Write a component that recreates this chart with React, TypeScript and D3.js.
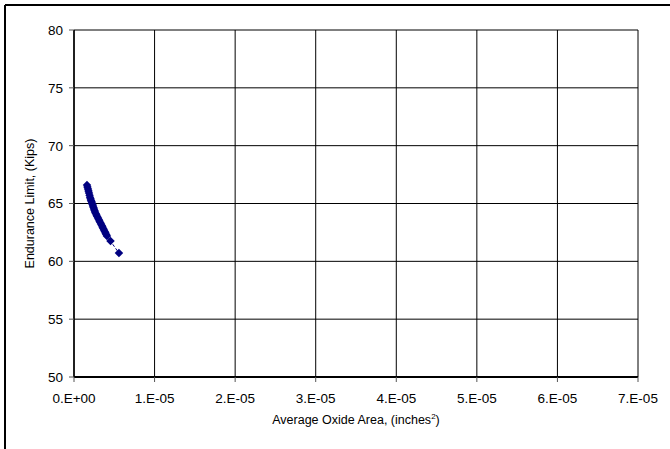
import React from "react";
import * as d3 from "d3";

// Average oxide area (in^2) vs endurance limit (kips)
const oxideArea = [
  1.61e-6, 1.67e-6, 1.74e-6, 1.8e-6, 1.86e-6, 1.93e-6, 1.99e-6, 2.05e-6, 2.11e-6, 2.17e-6,
  2.23e-6, 2.3e-6, 2.36e-6, 2.42e-6, 2.48e-6, 2.55e-6, 2.61e-6, 2.7e-6, 2.79e-6, 2.88e-6,
  2.98e-6, 3.07e-6, 3.16e-6, 3.26e-6, 3.35e-6, 3.45e-6, 3.54e-6, 3.63e-6, 3.72e-6, 3.82e-6,
  3.91e-6, 4.0e-6, 4.09e-6, 4.53e-6, 5.58e-6,
];
const enduranceLimit = [
  66.59, 66.42, 66.25, 66.08, 65.9, 65.72, 65.55, 65.42, 65.29, 65.17,
  65.04, 64.91, 64.78, 64.65, 64.52, 64.39, 64.26, 64.13, 64.0, 63.87,
  63.74, 63.61, 63.48, 63.35, 63.22, 63.09, 62.96, 62.83, 62.7, 62.57,
  62.44, 62.31, 62.18, 61.75, 60.71,
];
const xTicks = [0, 1e-5, 2e-5, 3e-5, 4e-5, 5e-5, 6e-5, 7e-5];
const xTickLabels = ["0.E+00", "1.E-05", "2.E-05", "3.E-05", "4.E-05", "5.E-05", "6.E-05", "7.E-05"];
const yTicks = [50, 55, 60, 65, 70, 75, 80];

export default function App() {
  const width = 670;
  const height = 449;
  const left = 74;
  const right = 638;
  const top = 30;
  const bottom = 377;
  const font = "'Liberation Sans', Arial, sans-serif";

  const x = d3.scaleLinear().domain([0, 7e-5]).range([left, right]);
  const y = d3.scaleLinear().domain([50, 80]).range([bottom, top]);

  const points = oxideArea.map((a, i) => [a, enduranceLimit[i]] as [number, number]);
  const line = d3
    .line<[number, number]>()
    .x((d) => x(d[0]))
    .y((d) => y(d[1]));
  const diamond = d3.symbol().type(d3.symbolDiamond2).size(46)();

  return (
    <svg
      width={width}
      height={height}
      style={{ position: "absolute", left: 0, top: 0, background: "#fff" }}
      fontFamily={font}
    >
      {/* outer frame, only top and left fall inside the picture */}
      <line x1={5} x2={width} y1={5} y2={5} stroke="#000" strokeWidth={2} />
      <line x1={5} x2={5} y1={5} y2={height} stroke="#000" strokeWidth={2} />

      {/* grid */}
      {yTicks.map((t) => (
        <line key={"gy" + t} x1={left} x2={right} y1={y(t)} y2={y(t)} stroke="#000" strokeWidth={1} />
      ))}
      {xTicks.map((t) => (
        <line key={"gx" + t} x1={x(t)} x2={x(t)} y1={top} y2={bottom} stroke="#000" strokeWidth={1} />
      ))}

      {/* axes */}
      <line x1={left} x2={right} y1={bottom} y2={bottom} stroke="#000" strokeWidth={2} />
      <line x1={left} x2={left} y1={top} y2={bottom} stroke="#000" strokeWidth={1.5} />

      {yTicks.map((t) => (
        <g key={"ty" + t}>
          <line x1={left - 5} x2={left} y1={y(t)} y2={y(t)} stroke="#555" />
          <text x={left - 11} y={y(t)} dy="0.36em" textAnchor="end" fontSize={13.5}>
            {t}
          </text>
        </g>
      ))}
      {xTicks.map((t, i) => (
        <g key={"tx" + t}>
          <line x1={x(t)} x2={x(t)} y1={bottom} y2={bottom + 5} stroke="#555" />
          <text x={x(t)} y={bottom + 26} textAnchor="middle" fontSize={13.5}>
            {xTickLabels[i]}
          </text>
        </g>
      ))}

      {/* series */}
      <path d={line(points) ?? ""} fill="none" stroke="#000080" strokeWidth={1} strokeDasharray="3,2" />
      {points.map((p, i) => (
        <path key={i} d={diamond ?? ""} transform={`translate(${x(p[0])},${y(p[1])})`} fill="#000080" />
      ))}

      {/* titles */}
      <text x={(left + right) / 2} y={424} textAnchor="middle" fontSize={12.5}>
        Average Oxide Area, (inches<tspan fontSize={8} dy={-5}>2</tspan>
        <tspan dy={5}>)</tspan>
      </text>
      <text
        transform={`translate(34,${(top + bottom) / 2}) rotate(-90)`}
        textAnchor="middle"
        fontSize={12.5}
      >
        Endurance Limit, (Kips)
      </text>
    </svg>
  );
}
